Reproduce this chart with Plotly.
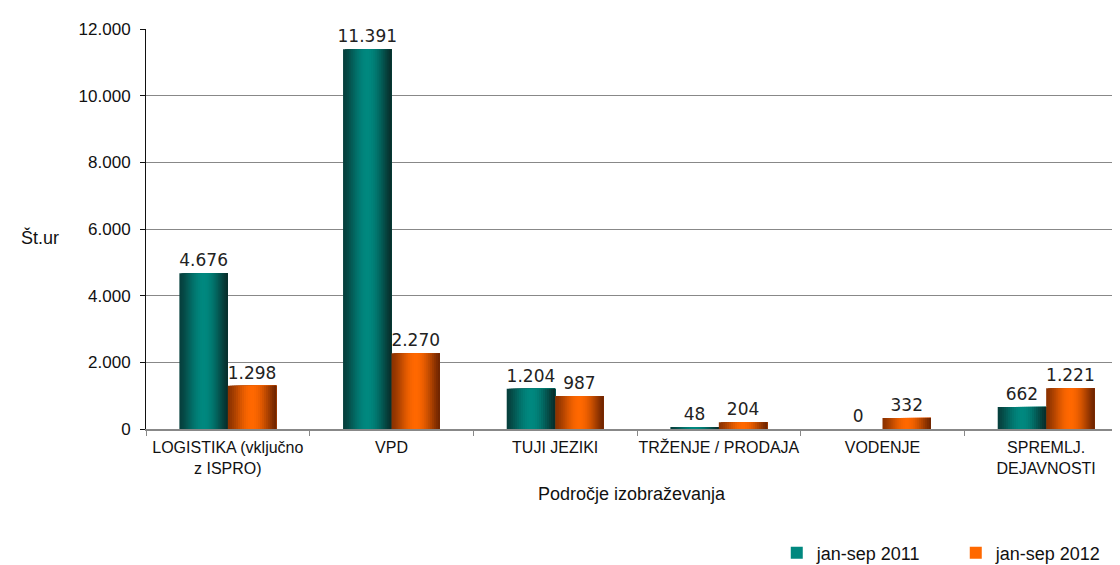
import plotly.graph_objects as go
import math

categories = ["LOGISTIKA (vključno<br>z ISPRO)", "VPD", "TUJI JEZIKI",
              "TRŽENJE / PRODAJA", "VODENJE", "SPREMLJ.<br>DEJAVNOSTI"]
series_names = ["jan-sep 2011", "jan-sep 2012"]
values_2011 = [4676, 11391, 1204, 48, 0, 662]
values_2012 = [1298, 2270, 987, 204, 332, 1221]
y_ticks = [0, 2000, 4000, 6000, 8000, 10000, 12000]

dark_light = [((8, 45, 43), (0, 136, 127)), ((110, 36, 0), (255, 104, 0))]
BAR_W = 0.296
K = 24


def mix(c1, c2, f):
    return "rgb(%d,%d,%d)" % tuple(round(a + (b - a) * f) for a, b in zip(c1, c2))


def fmt(v):
    return "{:,}".format(v).replace(",", ".")


fig = go.Figure()
for si, (name, vals) in enumerate(zip(series_names, [values_2011, values_2012])):
    o0 = -BAR_W if si == 0 else 0.0
    dark, light = dark_light[si]
    for k in range(K):
        t = (k + 0.5) / K
        if t < 0.5:
            f = 0.2 + 0.8 * math.sin(math.pi * t) ** 1.5
        else:
            f = math.sin(math.pi * t) ** 1.3
        f = max(0.0, min(1.0, f))
        fig.add_trace(go.Bar(
            x=categories, y=vals, name=name,
            offset=o0 + k * BAR_W / K, width=BAR_W * (K - k) / K,
            marker=dict(color=mix(dark, light, f), line=dict(width=0)),
            showlegend=(k == K // 2), legendgroup=name, hoverinfo="skip"))
    fig.add_trace(go.Bar(
        x=categories, y=vals, offset=o0, width=BAR_W,
        marker=dict(color="rgba(0,0,0,0)", line=dict(width=0)),
        text=[fmt(v) for v in vals], textposition="outside",
        textfont=dict(family="DejaVu Sans", size=17, color="#222"),
        constraintext="none", cliponaxis=False, showlegend=False,
        legendgroup=name, hoverinfo="skip"))

fig.update_layout(
    width=1120, height=565,
    barmode="overlay",
    separators=",.",
    paper_bgcolor="white", plot_bgcolor="white",
    margin=dict(l=138, r=0, t=21, b=144, autoexpand=False),
    font=dict(family="Liberation Sans", size=17, color="#111"),
    legend=dict(orientation="h", xref="container", yref="container",
                x=0.6864, y=0.0354, xanchor="left", yanchor="middle",
                font=dict(size=18), entrywidth=134, entrywidthmode="pixels",
                traceorder="normal"),
)
fig.update_xaxes(
    type="category", showline=True, linecolor="#888", linewidth=1.5,
    ticks="outside", tickson="boundaries", ticklen=5, tickcolor="#888",
    tickangle=0, automargin=False, ticklabelstandoff=3,
    tickfont=dict(family="Liberation Sans", size=16), showgrid=False,
)
fig.update_yaxes(
    range=[0, 12000], tickvals=y_ticks, tickformat=",d",
    showline=True, linecolor="#111", linewidth=1, automargin=False,
    ticks="outside", ticklen=5, tickcolor="#111", ticklabelstandoff=6,
    showgrid=True, gridcolor="#888", gridwidth=1,
    tickfont=dict(family="Liberation Sans", size=17), zeroline=False,
)
fig.add_annotation(text="Št.ur", xref="paper", yref="paper", x=-0.108, y=0.48,
                   xanchor="center", yanchor="middle", showarrow=False,
                   font=dict(family="Liberation Sans", size=18))
fig.add_annotation(text="Področje izobraževanja", xref="paper", yref="paper",
                   x=0.495, y=-0.163, xanchor="center", yanchor="middle", showarrow=False,
                   font=dict(family="Liberation Sans", size=18))

fig.write_html("out.html")
